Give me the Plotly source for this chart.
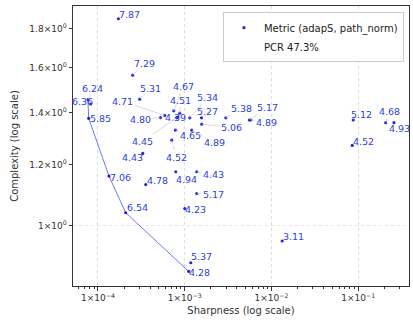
import numpy as np
import plotly.graph_objects as go

# ---- data ----
labels = ["7.87", "7.29", "5.31", "6.24", "6.36", "5.85", "4.71", "4.80", "4.67", "4.51",
          "4.39", "4.45", "5.34", "5.27", "5.38", "5.17", "4.89", "5.06", "4.65", "4.89",
          "4.52", "4.43", "7.06", "4.78", "4.94", "4.43", "5.17", "6.54", "4.23", "5.37",
          "4.28", "3.11", "5.12", "4.52", "4.68", "4.93"]
sharpness = [1.719e-4, 2.515e-4, 3.028e-4, 7.667e-5, 8.236e-5, 7.81e-5, 5.884e-4, 5.248e-4, 7.47e-4, 8.765e-4,
             8.31e-4, 8.03e-4, 1.143e-3, 1.560e-3, 2.975e-3, 5.553e-3, 5.779e-3, 1.572e-3, 7.816e-4, 1.205e-3,
             7.087e-4, 3.279e-4, 1.339e-4, 3.552e-4, 7.879e-4, 1.377e-3, 1.377e-3, 2.087e-4, 1.001e-3, 1.174e-3,
             1.113e-3, 1.327e-2, 8.756e-2, 8.525e-2, 0.207, 0.258]
complexity = [1.853, 1.566, 1.458, 1.456, 1.437, 1.377, 1.389, 1.380, 1.408, 1.398,
              1.382, 1.379, 1.379, 1.379, 1.379, 1.370, 1.370, 1.353, 1.329, 1.329,
              1.290, 1.240, 1.159, 1.130, 1.174, 1.174, 1.100, 1.039, 1.052, 0.895,
              0.872, 0.955, 1.370, 1.270, 1.359, 1.359]
series_name = "Metric (adapS, path_norm)"
pcr_text = "PCR 47.3%"
x_tick_vals = [1e-4, 1e-3, 1e-2, 1e-1]
x_tick_text = ["1×10<sup>−4</sup>", "1×10<sup>−3</sup>", "1×10<sup>−2</sup>", "1×10<sup>−1</sup>"]
y_tick_vals = [1.0, 1.2, 1.4, 1.6, 1.8]
y_tick_text = ["1×10<sup>0</sup>", "1.2×10<sup>0</sup>", "1.4×10<sup>0</sup>",
               "1.6×10<sup>0</sup>", "1.8×10<sup>0</sup>"]

# ---- label placement (pixel offsets from the point) ----
label_offsets = [(11, -4), (12, -12), (10.5, -11), (4.7, -11.5), (-8, -2.3), (11.5, 0), (-42, -14),
                 (-19.7, 1.5), (9.5, -24.7), (1, -13), (-2, 0), (-33.7, 23.3), (18, -20.7),
                 (5.8, -6.7), (16, -9.7), (18.5, -12.5), (16, 2), (29.5, 3), (15.3, 5), (22.5, 12),
                 (4.5, 17), (-10.5, 3.7), (11.7, 1), (11.5, -4.3), (11, 7.3), (17, 2.3), (16.5, 0.7),
                 (11.5, -5.3), (11, 0.7), (11, -6.3), (11, 0.7), (11.2, -4), (8.2, -6), (11.2, -3.6),
                 (4.3, -11.7), (5.5, 5.3)]

FONT = "DejaVu Sans"
TXT = "#2e3fd8"

# Pareto front (lowest complexity for increasing sharpness)
order = np.argsort(sharpness)
px, py = [], []
best = np.inf
for i in order:
    if complexity[i] < best:
        best = complexity[i]
        px.append(sharpness[i])
        py.append(complexity[i])

fig = go.Figure()
fig.add_trace(go.Scatter(x=px, y=py, mode="lines", showlegend=False,
                         line=dict(color="rgba(70,90,240,0.8)", width=1), hoverinfo="skip"))
fig.add_trace(go.Scatter(x=sharpness, y=complexity, mode="markers", name=series_name,
                         marker=dict(color="rgba(0,0,205,0.85)", size=3.2, line=dict(width=0))))
fig.add_trace(go.Scatter(x=[None], y=[None], mode="markers", name=pcr_text,
                         marker=dict(color="rgba(0,0,0,0)", size=1)))

for lab, xv, yv, (ox, oy) in zip(labels, sharpness, complexity, label_offsets):
    fig.add_annotation(x=np.log10(xv), y=np.log10(yv), text=lab, showarrow=True,
                       arrowhead=0, arrowwidth=0.7, arrowcolor="#c8c8c8", standoff=0,
                       ax=ox, ay=oy, font=dict(family=FONT, size=9.5, color=TXT))

fig.add_shape(type="line", xref="paper", x0=0, x1=1, yref="y", y0=1.0, y1=1.0,
              line=dict(color="#dcdcdc", width=0.8, dash="3px,3px"), layer="below")

minor_x = [m * 10.0 ** e for e in range(-5, 0) for m in range(2, 10)]

fig.update_layout(
    width=413, height=320,
    margin=dict(l=73, r=4, t=6, b=34),
    paper_bgcolor="white", plot_bgcolor="white",
    font=dict(family=FONT, size=9, color="#333"),
    legend=dict(x=0.985, y=0.978, xanchor="right", yanchor="top",
                bgcolor="white", bordercolor="#cccccc", borderwidth=1, tracegroupgap=0,
                font=dict(family=FONT, size=10, color="#222"), itemwidth=30),
    xaxis=dict(type="log", range=[-4.288, -0.415], tickvals=x_tick_vals, ticktext=x_tick_text,
               showgrid=True, gridcolor="#dcdcdc", gridwidth=0.8, griddash="3px,3px",
               showline=True, linecolor="#333", linewidth=1, mirror=True,
               ticks="outside", ticklen=3.5, tickcolor="#333", zeroline=False,
               minor=dict(tickvals=minor_x, ticks="outside", ticklen=2, tickcolor="#333", showgrid=False),
               title=dict(text="Sharpness (log scale)", standoff=4, font=dict(size=10, color="#333"))),
    yaxis=dict(type="log", range=[-0.0783, 0.2844], tickvals=y_tick_vals, ticktext=y_tick_text,
               showgrid=False, showline=True, linecolor="#333", linewidth=1, mirror=True,
               ticks="outside", ticklen=3.5, tickcolor="#333", zeroline=False,
               title=dict(text="Complexity (log scale)", standoff=8, font=dict(size=10, color="#333"))),
)

fig.write_html("out.html")
